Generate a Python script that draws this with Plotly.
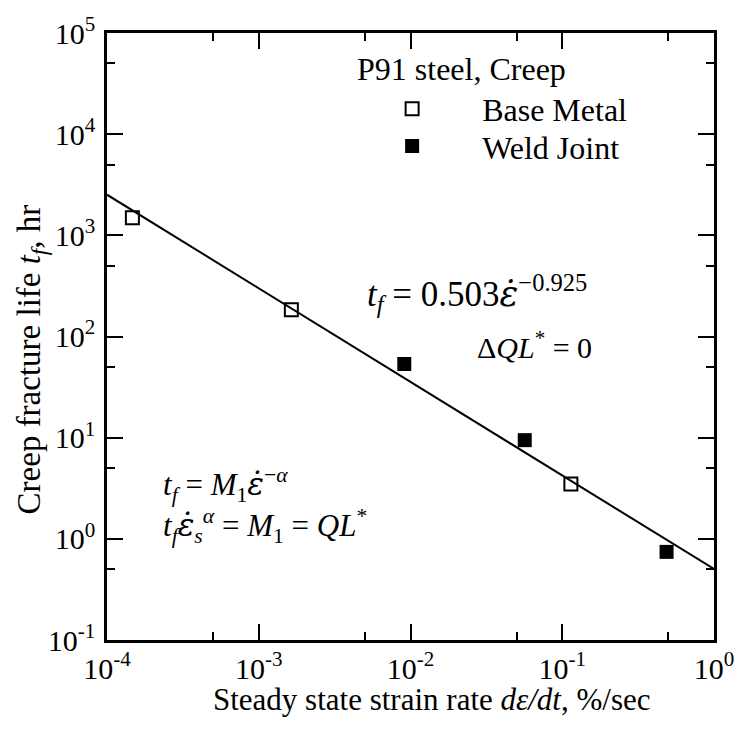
import plotly.graph_objects as go

# ---- data ----
base_x = [1.47e-4, 1.64e-3, 0.114]
base_y = [1490, 184, 3.49]
weld_x = [9.1e-3, 0.0566, 0.487]
weld_y = [53.5, 9.45, 0.743]
fit_x = [1e-4, 1.0]
fit_y = [2520, 0.503]

x_ticks = [1e-4, 1e-3, 1e-2, 1e-1, 1e0]
x_ticktext = ["10<sup>-4</sup>", "10<sup>-3</sup>", "10<sup>-2</sup>", "10<sup>-1</sup>", "10<sup>0</sup>"]
x_minor = [5e-4, 5e-3, 5e-2, 5e-1]
y_ticks = [1e-1, 1e0, 1e1, 1e2, 1e3, 1e4, 1e5]
y_ticktext = ["10<sup>-1</sup>", "10<sup>0</sup>", "10<sup>1</sup>", "10<sup>2</sup>",
              "10<sup>3</sup>", "10<sup>4</sup>", "10<sup>5</sup>"]
y_minor = [5e-1, 5e0, 5e1, 5e2, 5e3, 5e4]

FONT = "Liberation Serif"
EDOT = "<i><span style='font-family:DejaVu Serif'>ε̇</span></i>"

fig = go.Figure()
fig.add_trace(go.Scatter(x=fit_x, y=fit_y, mode="lines", line=dict(color="black", width=2),
                         showlegend=False, hoverinfo="skip"))
fig.add_trace(go.Scatter(x=base_x, y=base_y, mode="markers", name="Base Metal", legend="legend",
                         marker=dict(symbol="square-open", size=13, color="black",
                                     line=dict(width=2, color="black"))))
fig.add_trace(go.Scatter(x=weld_x, y=weld_y, mode="markers", name="Weld Joint", legend="legend2",
                         marker=dict(symbol="square", size=14, color="black")))

axis_common = dict(
    type="log", showline=True, linecolor="black", linewidth=2.5, mirror="ticks",
    ticks="inside", ticklen=16, tickwidth=2, tickcolor="black",
    showgrid=False, zeroline=False, tickmode="array", ticklabeloverflow="allow",
    tickfont=dict(family=FONT, size=30, color="black"),
)

fig.update_xaxes(range=[-4, 0], tickvals=x_ticks, ticktext=x_ticktext,
                 minor=dict(tickmode="array", tickvals=x_minor, ticks="inside", ticklen=8,
                            tickwidth=2, tickcolor="black", showgrid=False),
                 ticklabelstandoff=0, **axis_common)
fig.update_yaxes(range=[-1, 5], tickvals=y_ticks, ticktext=y_ticktext,
                 minor=dict(tickmode="array", tickvals=y_minor, ticks="inside", ticklen=8,
                            tickwidth=2, tickcolor="black", showgrid=False),
                 ticklabelstandoff=3, **axis_common)

def px2paper(px, py):
    return (px - 107) / 617.0, (640 - py) / 616.0

annots = [
    ("P91 steel, Creep", 359, 61, 32),
    ("<i>t<sub>f</sub></i> = 0.503" + EDOT + "<sup>−0.925</sup>", 369, 288, 35),
    ("Δ<i>QL</i><sup>*</sup> = 0", 481, 341, 30),
    ("<i>t<sub>f</sub></i> = <i>M</i><sub>1</sub>" + EDOT + "<sup>−<i>α</i></sup>", 162, 483, 31),
    ("<i>t<sub>f</sub></i>" + EDOT + "<sub><i>s</i></sub><sup><i>α</i></sup> = <i>M</i><sub>1</sub> = <i>QL</i><sup>*</sup>", 162, 524, 31),
]
for txt, px, py, fs in annots:
    ax, ay = px2paper(px, py)
    fig.add_annotation(text=txt, x=ax, y=ay, xref="paper", yref="paper", xanchor="left",
                       yanchor="middle", showarrow=False,
                       font=dict(family=FONT, size=fs, color="black"))

tx, ty = px2paper(437, 700)
fig.add_annotation(text="Steady state strain rate <i>dε/dt</i>, %/sec", x=tx, y=ty,
                   xref="paper", yref="paper", xanchor="center", yanchor="middle",
                   showarrow=False, font=dict(family=FONT, size=31, color="black"))
tx, ty = px2paper(30, 355)
fig.add_annotation(text="Creep fracture life <i>t<sub>f</sub></i>, hr", x=tx, y=ty,
                   xref="paper", yref="paper", xanchor="center", yanchor="middle",
                   textangle=-90, showarrow=False,
                   font=dict(family=FONT, size=33, color="black"))

l1x, l1y = px2paper(346, 101)
l2x, l2y = px2paper(346, 139)
leg_common = dict(xanchor="left", yanchor="middle", bgcolor="rgba(0,0,0,0)",
                  font=dict(family=FONT, size=32, color="black"), itemwidth=130)
fig.update_layout(
    width=746, height=730,
    margin=dict(l=107, r=22, t=24, b=90),
    paper_bgcolor="white", plot_bgcolor="white",
    showlegend=True,
    legend=dict(x=l1x, y=l1y, **leg_common),
    legend2=dict(x=l2x, y=l2y, **leg_common),
)

fig.write_html("out.html")
